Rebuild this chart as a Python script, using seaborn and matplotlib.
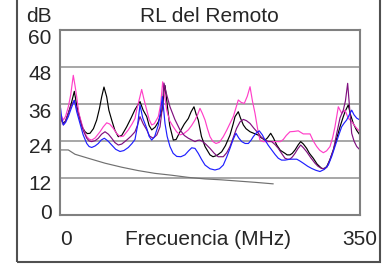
import matplotlib
matplotlib.use("Agg")
import matplotlib.pyplot as plt
import matplotlib.transforms as mtransforms
from matplotlib.patches import Rectangle
import pandas as pd
import seaborn as sns

# frequency (MHz) / return loss (dB)
black_f = [1.2, 3.9, 6.5, 9.7, 13, 16.7, 19.5, 23.3, 26, 29.2, 32, 35, 39, 42.8, 46, 48.6, 51.3, 54.5,
           57, 60.3, 64, 68, 72, 77.8, 83, 87.5, 93.3, 97, 101.2, 104, 107, 111, 114.7, 119, 122.5,
           125, 128, 132.2, 135.5, 140, 145, 149.7, 153, 156.3, 159, 161.3, 165, 169.2, 175, 178.5,
           183, 188.6, 193, 198.3, 202, 204.2, 208, 210.5, 213.9, 217, 221.7, 226, 231.4, 235, 239.2,
           242, 245.8, 249, 252.8, 257, 262.5, 265, 268.3, 271, 274.2, 278, 280.8, 284, 287.8, 291,
           295.5, 300, 305.3, 308, 311.2, 315, 318.9, 323, 326.7, 330.5, 333, 336.3, 339, 342.2,
           346, 350]
black_db = [31.3, 29.7, 30.5, 33, 36, 40.1, 35.5, 31.3, 28.5, 27, 26.4, 26.5, 28, 30.8, 34.5, 38.3,
            41.5, 38.3, 34, 30.8, 27.5, 25.4, 25.8, 28.6, 31.5, 34.2, 36.8, 34, 31.9, 29, 27.6, 28.5,
            30.2, 34, 42, 36, 29, 24.3, 24.5, 27, 29.5, 31.3, 33.5, 35.1, 32.5, 30.8, 25.5, 22.2,
            19.5, 18.9, 19.3, 20.5, 22.5, 25.9, 29.5, 31.9, 33.5, 31.5, 29.2, 28, 27, 26.5, 25.9, 25,
            24.3, 25, 26.5, 25, 22.7, 21, 20, 19.5, 19.5, 20, 21.1, 22.8, 23.8, 23, 21.6, 20, 18.4,
            16.5, 15.1, 15, 15.7, 18, 21.1, 25, 28.6, 31.9, 33.8, 35.7, 32.5, 29.7, 27.5, 25.9]

pink_f = [1.2, 3.9, 6.5, 9.7, 12.5, 15.5, 17.5, 19.5, 22, 25.3, 28, 31.2, 34, 37, 41, 46.7, 50.5, 54.5,
          58, 62.2, 66, 70, 74, 79.7, 84, 87.5, 89.4, 92.5, 95.3, 98, 101.2, 104, 107, 110, 114.7,
          117.5, 119.8, 122, 124.5, 128, 132.2, 136, 140, 144, 149.7, 153.5, 157.5, 160.5, 163.3, 166,
          169.2, 172, 175, 178.5, 182, 186, 190.5, 194.5, 198.3, 202.2, 205, 208, 211.5, 215, 218.5,
          221.7, 224.5, 227.5, 230.5, 233.3, 237, 241.2, 247, 252.8, 257, 260.5, 264, 268.3, 273, 278,
          283.8, 291.7, 295.5, 299.5, 303, 307.2, 311, 315, 318, 320.8, 324.7, 328.6, 332.5, 336.3,
          340.3, 345, 350]
pink_db = [32.4, 30.8, 32, 35.1, 39, 45.3, 42, 38.3, 33, 29.7, 27.2, 25.4, 24.6, 24.3, 25, 27, 28.6,
           29.9, 29.5, 28.1, 26.5, 25.4, 25.6, 27.6, 29.5, 31.3, 34, 37.5, 40.7, 37.5, 34, 31, 29.2,
           29.6, 31.9, 36, 43.2, 39, 34, 30.5, 28.6, 27, 26, 26.3, 27.6, 29, 30.8, 32.5, 34.6, 33,
           30.8, 28, 25.4, 23.8, 23.2, 23.6, 25.4, 27.5, 29.7, 31.9, 34.5, 37.3, 36.5, 36.2, 38.5,
           41.6, 37, 33, 28, 24.3, 23.8, 23.8, 23.8, 23.8, 23.8, 24.5, 25.8, 27, 27.1, 27.3,
           26.3, 26.3, 24, 22.2, 21, 20.2, 20.8, 22.2, 25, 28.6, 35.1, 33, 34, 31.4,
           30.3, 28.5, 27]

purple_f = [0, 1.2, 3.9, 6.5, 9.7, 13, 16.7, 19.5, 23.3, 27, 31.2, 34, 37, 41, 44.7, 48.5, 52.5, 56.5,
            60.3, 64, 68, 72, 77.8, 83, 87.5, 90.5, 93.3, 97, 101.2, 104.5, 108.8, 113, 116.7, 119,
            121.3, 124, 128.3, 134, 140, 145, 149.7, 154, 157.5, 160.5, 163, 166, 170, 175, 180, 184.5,
            190.5, 194.5, 198.3, 202, 206, 210, 213.9, 217.5, 221.7, 226, 231.4, 235, 239.2, 243, 247,
            251, 254.7, 258.5, 262.5, 265.5, 268.3, 271, 274.2, 277.5, 280.8, 284, 287.8, 292.5, 297.5,
            301, 305.3, 308, 311.2, 315, 318.9, 322.5, 326.7, 330.5, 333, 335.6, 337.5, 340.3, 343,
            346.2, 350]
purple_db = [27.5, 31.5, 29.2, 30.5, 33, 35.5, 37.2, 34.5, 30.8, 27.5, 24.9, 24, 23.8, 24.1, 24.9, 26.2,
             27, 26.2, 24.9, 23.5, 22.7, 23, 24.3, 25.6, 27, 29.2, 31.9, 29.6, 27.6, 25.6, 24.9, 26,
             28.6, 34, 42.8, 39.5, 35.1, 31, 27.6, 25.8, 24.9, 24.3, 23.8, 24.2, 24.3, 23.9, 23, 21.6,
             20, 18.9, 18.9, 20.2, 22.2, 25, 28.1, 30.2, 31, 30.6, 29.7, 28.2, 26.5, 25.2, 24.3, 23.9,
             23.8, 22.8, 21.6, 20, 18.4, 18.1, 18.1, 18.8, 20, 21.5, 22.7, 21.8, 20.5, 18.6, 16.8,
             15.8, 15.1, 15.1, 15.4, 18, 21.1, 26, 31.5, 34, 37, 42.7, 36, 26.5, 24,
             22.2, 21.1]

blue_f = [0.6, 2, 3.9, 6.5, 9.7, 13, 16.7, 19.5, 23.3, 27, 31.2, 34, 37, 41, 44.7, 48, 51.7, 56, 60.3,
          65, 70, 74.5, 79.7, 84, 87.5, 90.5, 93.3, 96.5, 101.2, 104, 107, 110.5, 114.7, 117, 119.4,
          121, 122.5, 125, 128.3, 132, 136.2, 141, 145.8, 150, 153.7, 157.5, 161.3, 165, 169.2, 175,
          180.8, 186, 190.5, 194.5, 198.3, 202, 205.3, 208.5, 212, 216, 219.8, 223, 225.5, 229, 232.5,
          236, 239.2, 243, 247, 251, 254.7, 258.5, 262.5, 268.3, 276.2, 280, 283.8, 289, 293.6, 298.5,
          303.3, 308.5, 313, 317, 320.8, 324.7, 328.6, 331.5, 334.4, 337.5, 340.3, 343, 346.2, 350]
blue_db = [34.8, 31.5, 29.2, 30, 31.9, 34.5, 37.2, 33.5, 29.7, 26, 23.2, 22.2, 21.9, 22.4, 23.2, 24.3,
           24.9, 24, 22.7, 21.3, 20.6, 20.9, 21.9, 23.2, 24.5, 29, 35.7, 31.5, 28.1, 25.5, 24.3, 25.5,
           29.2, 33, 38.4, 34, 29.7, 25.5, 22.2, 20, 19, 18.9, 19.5, 20.8, 21.8, 21.6, 20, 18.1, 16.2,
           15, 14.6, 15, 16.2, 18.8, 21.6, 24.5, 26.5, 25, 23.8, 23.2, 23.2, 24.3, 25.4, 26.6, 27.3,
           26, 24.3, 22.6, 21.1, 19.6, 18.4, 17.8, 17.8, 18.1, 18.1, 17.5, 16.8, 15.8, 15.1, 14.5,
           14.1, 14.8, 16.2, 19, 22.2, 25.5, 28.6, 29.8, 30.8, 32.5, 34, 32.5, 31.4, 30.8]

gray_f = [0, 9.7, 17.5, 33, 52.5, 72, 91.3, 110.8, 130.3, 149.7, 169.2, 188.6, 208, 227.5, 248.8]
gray_db = [21.1, 21.1, 19.7, 18.4, 16.8, 15.5, 14.4, 13.5, 12.9, 12.2, 11.7, 11.4, 11.0, 10.6, 10.1]

yticks = [0, 12, 24, 36, 48, 60]
xticks = [0, 350]

sns.set_style("white")
plt.rcParams["font.family"] = ["Liberation Sans", "DejaVu Sans"]

fig = plt.figure(figsize=(3.91, 2.66), dpi=100)
ax = fig.add_axes([60 / 391, 1 - 215 / 266, 300 / 391, 185 / 266])

series = [
    (black_f, black_db, "#000000"),
    (pink_f, pink_db, "#ff3fc8"),
    (purple_f, purple_db, "#80107f"),
    (blue_f, blue_db, "#1f1fff"),
    (gray_f, gray_db, "#707070"),
]
for f, db, c in series:
    df = pd.DataFrame({"f": f, "db": db})
    sns.lineplot(data=df, x="f", y="db", color=c, lw=0.85, sort=False, ax=ax)

ax.set_xlim(0, 350)
ax.set_ylim(0, 60)
ax.set_yticks(yticks)
ax.set_xticks(xticks)
ax.set_xticklabels([str(t) for t in xticks], fontsize=15)
ax.set_yticklabels([str(t) for t in yticks], fontsize=15)
ax.tick_params(length=0, pad=6)
ax.tick_params(axis="x", pad=11)
ax.xaxis.get_ticklabels()[0].set_horizontalalignment("left")

# nudge y labels to where the reference has them
yoff = [3.5, -4.5, -4.5, -6.5, -6, -6]
for lab, dy in zip(ax.yaxis.get_ticklabels(), yoff):
    lab.set_transform(lab.get_transform() + mtransforms.ScaledTranslation(0, dy / 100, fig.dpi_scale_trans))

ax.grid(axis="y", color="#a0a0a0", lw=1.3)
ax.grid(axis="x", visible=False)
for s in ax.spines.values():
    s.set_color("#808080")
    s.set_linewidth(1.5)

ax.set_xlabel("Frecuencia (MHz)", fontsize=15, va="baseline")
ax.xaxis.set_label_coords(148 / 300, -30 / 185)
ax.set_ylabel("")

fig.text(209 / 391, 1 - 22 / 266, "RL del Remoto", fontsize=15, ha="center", va="baseline")
fig.text(52 / 391, 1 - 22 / 266, "dB", fontsize=15, ha="right", va="baseline")

fig.patches.append(Rectangle((17 / 391, 1 - 262 / 266), 363 / 391, 262 / 266 + 0.02,
                             transform=fig.transFigure, fill=False, ec="#505050", lw=1.5))

fig.savefig("out.png", dpi=100)
